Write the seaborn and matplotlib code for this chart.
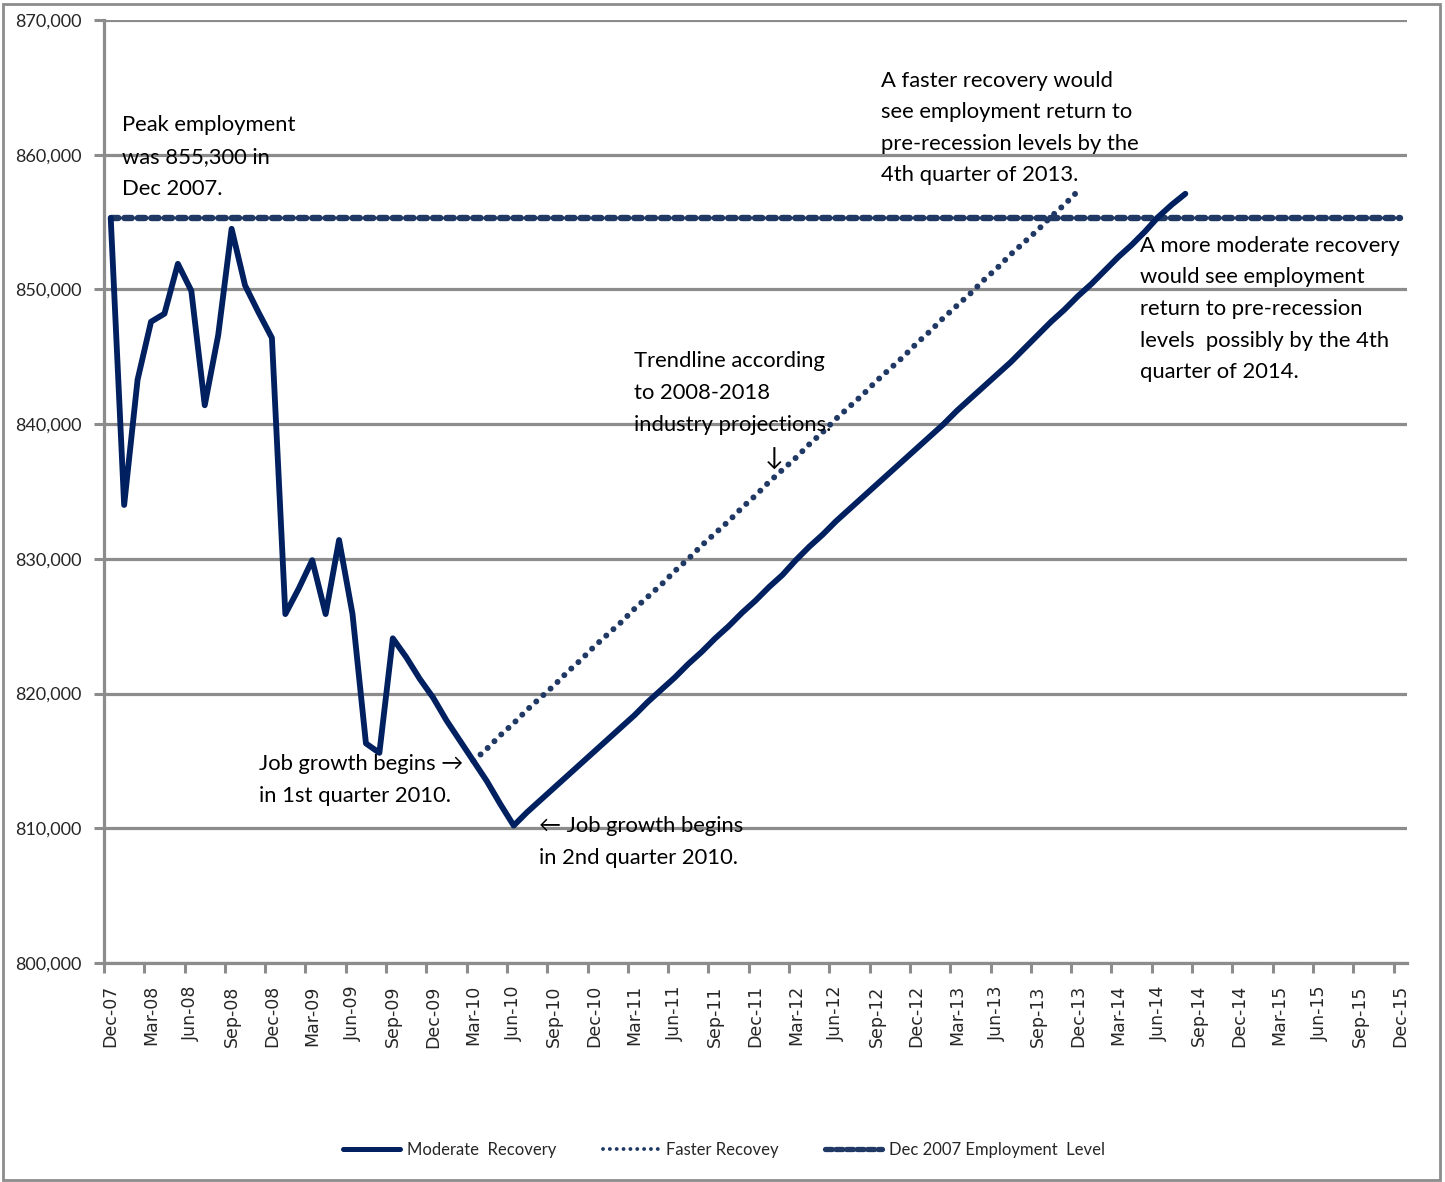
import matplotlib
matplotlib.use("Agg")
import matplotlib.pyplot as plt
from matplotlib.patches import Rectangle
from matplotlib.lines import Line2D
from matplotlib.ticker import FuncFormatter, FixedLocator
import seaborn as sns
import pandas as pd

# ---- data -----------------------------------------------------------------
months = pd.date_range("2007-12-01", periods=97, freq="MS").strftime("%b-%y").tolist()

# Monthly employment, Dec-07 .. Aug-14 (history, then moderate recovery path)
moderate = [
    855300, 834000, 843300, 847600, 848200, 851900, 849900, 841400, 846600, 854500,
    850300, 848300, 846400, 825900, 827800, 829900, 825900, 831400, 825900, 816300,
    815600, 824100, 822700, 821100, 819700, 818000, 816500, 815000, 813500, 811800,
    810200, 811200, 812100, 813000, 813900, 814800, 815700, 816600, 817500, 818400,
    819400, 820300, 821200, 822200, 823100, 824100, 825000, 826000, 826900, 827900,
    828800, 829900, 830900, 831800, 832800, 833700, 834600, 835500, 836400, 837300,
    838200, 839100, 840000, 841000, 841900, 842800, 843700, 844600, 845600, 846600,
    847600, 848500, 849500, 850400, 851400, 852400, 853300, 854300, 855400, 856300,
    857100,
]

# Faster recovery trendline, Mar-10 .. Dec-13
faster_start = "Mar-10"
faster = [
    815000, 815900, 816900, 817800, 818800, 819700, 820600, 821600, 822500, 823500,
    824400, 825300, 826300, 827200, 828100, 829100, 830000, 831000, 831900, 832800,
    833800, 834700, 835700, 836600, 837500, 838500, 839400, 840400, 841300, 842200,
    843200, 844100, 845000, 846000, 846900, 847900, 848800, 849700, 850700, 851600,
    852600, 853500, 854400, 855400, 856300, 857300,
]

peak_level = 855300

series_labels = ["Moderate  Recovery", "Faster Recovey", "Dec 2007 Employment  Level"]
y_ticks = [800000, 810000, 820000, 830000, 840000, 850000, 860000, 870000]

# ---- tables ----------------------------------------------------------------
df_mod = pd.DataFrame({"idx": range(len(moderate)), "value": moderate})
f0 = months.index(faster_start)
df_fast = pd.DataFrame({"idx": range(f0, f0 + len(faster)), "value": faster})
df_peak = pd.DataFrame({"idx": range(len(months)), "value": [peak_level] * len(months)})

# ---- style -----------------------------------------------------------------
sns.set_style("white")
plt.rcParams["font.family"] = ["Lato", "DejaVu Sans"]

W, H = 1445, 1182
fig = plt.figure(figsize=(W / 100, H / 100), dpi=100)
ax = fig.add_axes([104 / W, (H - 963) / H, (1407 - 104) / W, (963 - 20) / H])

GRID = "#8C8C8C"
NAVY = "#002060"
NAVY2 = "#1F3864"

sns.lineplot(data=df_peak, x="idx", y="value", ax=ax, color=NAVY2, lw=4.6,
             linestyle=(0, (1.15, 0.95)), dash_capstyle="round", zorder=3)
sns.lineplot(data=df_fast, x="idx", y="value", ax=ax, color=NAVY2, lw=4.3,
             linestyle=(0, (0.01, 1.6)), dash_capstyle="round", zorder=4)
sns.lineplot(data=df_mod, x="idx", y="value", ax=ax, color=NAVY, lw=4.2,
             solid_joinstyle="round", solid_capstyle="round", zorder=5)

ax.set_xlim(-0.5, len(months) - 0.5)
ax.set_ylim(y_ticks[0], y_ticks[-1])
ax.set_xlabel("")
ax.set_ylabel("")

# y axis
ax.set_yticks(y_ticks)
ax.yaxis.set_major_formatter(FuncFormatter(lambda v, p: f"{int(v):,}"))
ax.tick_params(axis="y", length=7, width=2.2, color=GRID, pad=9,
               labelsize=13, left=True)
ax.yaxis.grid(True, color=GRID, lw=2.3)
ax.set_axisbelow(True)

# x axis: label every third month, tick marks on category boundaries
lab_pos = list(range(0, len(months), 3))
ax.xaxis.set_major_locator(FixedLocator(lab_pos))
ax.set_xticklabels([months[i] for i in lab_pos], rotation=90,
                   fontfamily="DejaVu Sans", fontsize=12.5)
ax.xaxis.set_minor_locator(FixedLocator([p - 0.5 for p in lab_pos]))
ax.tick_params(axis="x", which="major", length=0, pad=16, bottom=True)
ax.tick_params(axis="x", which="minor", length=7, width=2.2, color=GRID, bottom=True)

for s in ["top", "right"]:
    ax.spines[s].set_visible(False)
for s in ["left", "bottom"]:
    ax.spines[s].set_color(GRID)
    ax.spines[s].set_linewidth(2.3)

# annotations
tk = dict(fontsize=15.8, color="black", ha="left", va="center", linespacing=1.72)
def ftext(x, y, s, **kw):
    opts = dict(tk)
    opts.update(kw)
    fig.text(x / W, 1 - y / H, s, **opts)

ftext(122, 157, "Peak employment\nwas 855,300 in\nDec 2007.")
ftext(881, 128, "A faster recovery would\nsee employment return to\npre-recession levels by the\n4th quarter of 2013.")
ftext(1140, 309, "A more moderate recovery\nwould see employment\nreturn to pre-recession\nlevels  possibly by the 4th\nquarter of 2014.")
ftext(634, 393, "Trendline according\nto 2008-2018\nindustry projections.")
ftext(774, 458, "\u2193", ha="center", fontsize=18)
ftext(259, 780, "Job growth begins \u2192\nin 1st quarter 2010.")
ftext(539, 842, "\u2190 Job growth begins\nin 2nd quarter 2010.")

# legend
handles = [
    Line2D([], [], color=NAVY, lw=3.6, solid_capstyle="round"),
    Line2D([], [], color=NAVY2, lw=2.8, linestyle=(0, (0.01, 1.75)),
           dash_capstyle="round"),
    Line2D([], [], color=NAVY2, lw=3.8, linestyle=(0, (1.3, 0.7)),
           dash_capstyle="round"),
]
fig.legend(handles, series_labels,
           loc="center", bbox_to_anchor=(0.501, 1 - 1150 / H), ncol=3,
           frameon=False, fontsize=12, handlelength=3.4, handletextpad=0.4,
           columnspacing=2.8)

# chart-area border
fig.patches.append(Rectangle((3 / W, 2 / H), (1440 - 3) / W, (1178 - 2) / H,
                             transform=fig.transFigure, fill=False,
                             edgecolor=GRID, lw=2, zorder=0))

fig.savefig("out.png", dpi=100)
